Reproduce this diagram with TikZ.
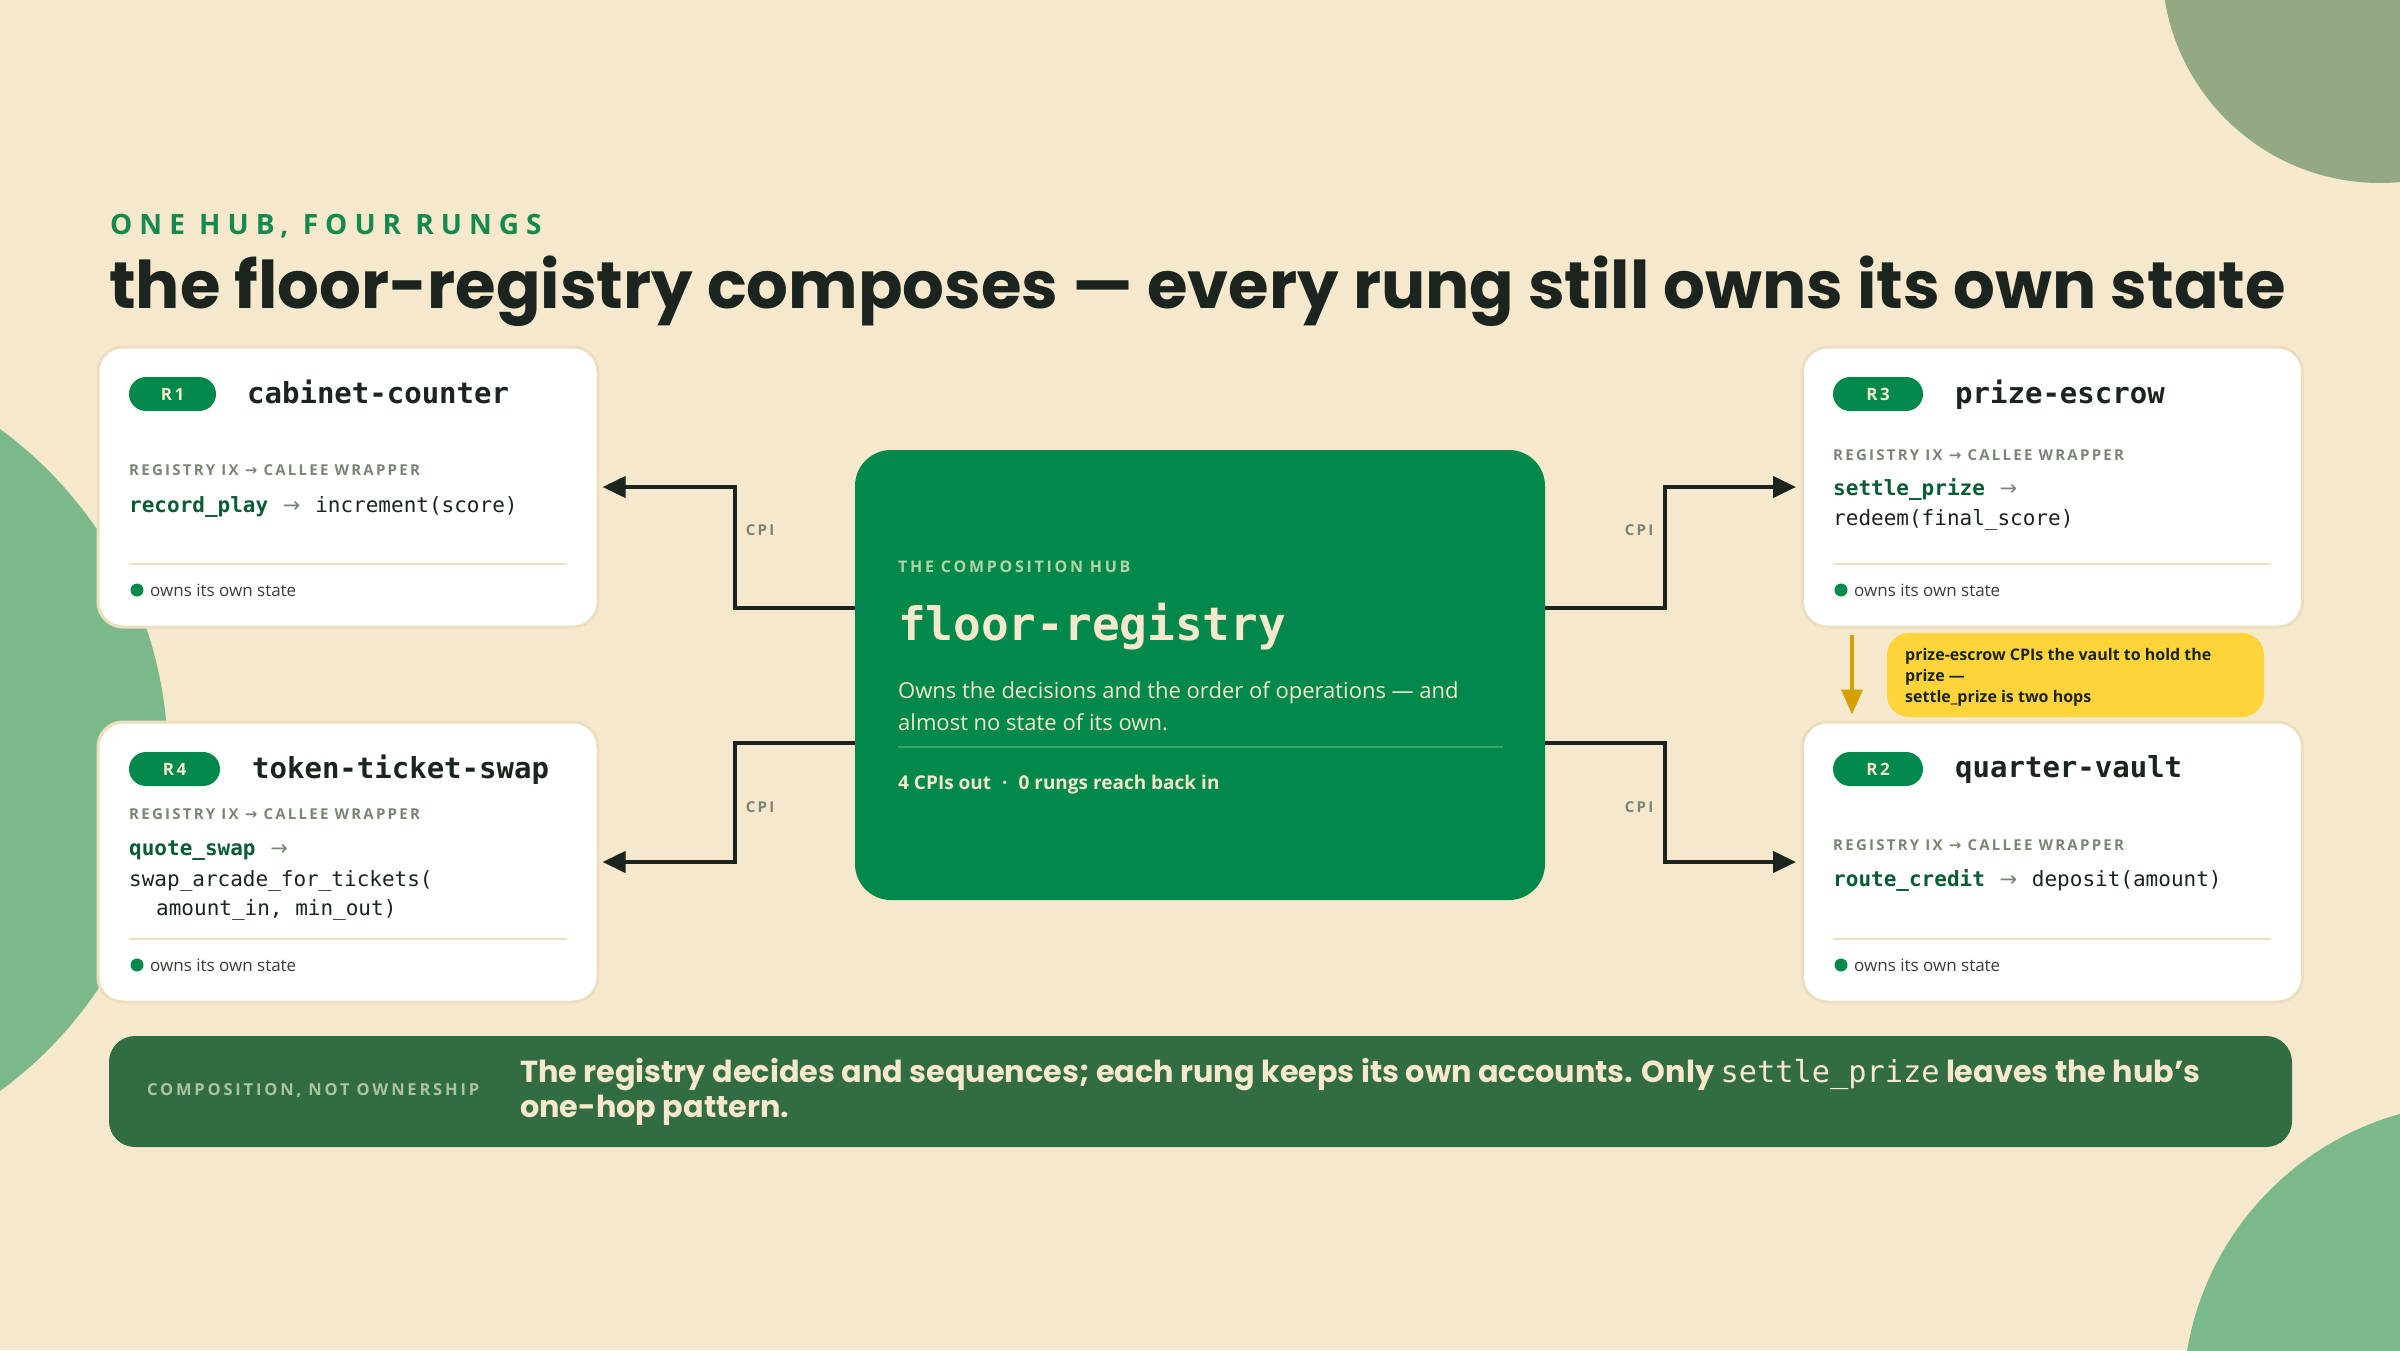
\documentclass[tikz,border=0pt]{standalone}
\usepackage{fontspec}
\usetikzlibrary{arrows.meta,positioning}
\setmainfont{Open Sans}
\setmonofont{DejaVu Sans Mono}
\newfontfamily\headfont{Poppins}
\newfontfamily\capsfont[LetterSpace=15]{Open Sans}
\newfontfamily\widecaps[LetterSpace=17]{Open Sans}
\newfontfamily\kickerfont[LetterSpace=25]{Open Sans}
\newfontfamily\arrowfont{DejaVu Sans}
\definecolor{paper}{RGB}{245,232,204}
\definecolor{cardedge}{RGB}{236,223,192}
\definecolor{hubgreen}{RGB}{0,137,75}
\definecolor{bandgreen}{RGB}{49,108,66}
\definecolor{ink}{RGB}{27,36,30}
\definecolor{body}{RGB}{58,62,56}
\definecolor{codegreen}{RGB}{10,92,52}
\definecolor{muted}{RGB}{122,133,118}
\definecolor{sage}{RGB}{147,169,132}
\definecolor{leaf}{RGB}{123,185,138}
\definecolor{hubcaps}{RGB}{178,212,168}
\definecolor{hubrule}{RGB}{52,164,104}
\definecolor{bandcaps}{RGB}{170,196,160}
\definecolor{notey}{RGB}{255,212,59}
\definecolor{gold}{RGB}{214,160,0}
\definecolor{kicker}{RGB}{20,138,78}
\newcommand{\setfs}[2]{\fontsize{#1}{#2}\selectfont}
\newcommand{\ixname}[1]{{\bfseries\color{codegreen}#1}}
\newcommand{\goesto}{\hspace{0.7em}{\arrowfont\color{muted}→}\hspace{0.7em}}
\begin{document}
\begin{tikzpicture}[x=1pt,y=-1pt,
  card/.style={draw=cardedge,line width=3pt,fill=white,rounded corners=25pt,minimum width=500pt,minimum height=280pt,inner sep=0pt},
  pill/.style={fill=hubgreen,rounded corners=17pt,minimum height=34pt,inner sep=0pt,text=paper,font=\capsfont\bfseries\setfs{17}{20}},
  rungname/.style={anchor=base west,inner sep=0pt,text=ink,font=\ttfamily\bfseries\setfs{29}{34}},
  ixlabel/.style={anchor=base west,inner sep=0pt,text=muted,font=\capsfont\bfseries\setfs{15}{18}},
  code/.style={anchor=base west,inner sep=0pt,text=ink,font=\ttfamily\setfs{21}{26}},
  owns/.style={anchor=base west,inner sep=0pt,text=body,font=\setfs{17}{20}},
  dot/.style={circle,fill=hubgreen,minimum size=13pt,inner sep=0pt},
  divider/.style={draw=cardedge,line width=2.5pt},
  cpi/.style={draw=ink,line width=4pt,-{Triangle[length=23pt,width=21pt]}},
  cpilabel/.style={text=muted,font=\capsfont\bfseries\setfs{15}{18},inner sep=0pt},
  hop/.style={draw=gold,line width=4pt,-{Triangle[length=25pt,width=21pt]}},
  hubtext/.style={anchor=base west,inner sep=0pt,text=paper,font=\setfs{22}{28}},
  notetext/.style={anchor=base west,inner sep=0pt,text=ink,font=\bfseries\setfs{16}{21}},
  bandtext/.style={anchor=base west,inner sep=0pt,text=paper,font=\headfont\bfseries\setfs{30.3}{35}}]
\useasboundingbox (0,0) rectangle (2400,1350);
\fill[paper] (0,0) rectangle (2400,1350);
\begin{scope}
\clip (0,0) rectangle (2400,1350);
\fill[sage] (2380,-35) circle[radius=218pt];
\fill[leaf] (-242,760) circle[radius=410pt];
\fill[leaf] (2480,1400) circle[radius=297pt];
\end{scope}
%
\node[anchor=base west,inner sep=0pt,text=kicker,font=\kickerfont\bfseries\setfs{28}{32}] (kick) at (110,234) {ONE HUB, FOUR RUNGS};
\node[anchor=base west,inner sep=0pt,text=ink,font=\headfont\bfseries\setfs{65.7}{72}] (title) at (109,308) {the floor-registry composes — every rung still owns its own state};
%
\node[fill=hubgreen,rounded corners=36pt,minimum width=690pt,minimum height=450pt] (hub) at (1200,675) {};
\node[anchor=base west,inner sep=0pt,text=hubcaps,font=\widecaps\bfseries\setfs{16}{19}] at (898,572) {THE COMPOSITION HUB};
\node[anchor=base west,inner sep=0pt,text=paper,font=\ttfamily\bfseries\setfs{46}{52}] at (898,640) {floor-registry};
\node[hubtext] at (898,698) {Owns the decisions and the order of operations — and};
\node[hubtext] at (898,730) {almost no state of its own.};
\draw[hubrule,line width=2.5pt] (898,747) -- (1503,747);
\node[hubtext,font=\bfseries\setfs{19}{23}] at (898,789) {4 CPIs out\hspace{11pt}·\hspace{11pt}0 rungs reach back in};
%
\node[card] (r1) at (348,487) {};
\node[pill,minimum width=87pt] at (172.5,394) {R1};
\node[rungname] at (247,403) {cabinet-counter};
\node[ixlabel] at (129,475) {REGISTRY IX {\arrowfont →} CALLEE WRAPPER};
\node[code] at (129,512) {\ixname{record\_play}\goesto increment(score)};
\draw[divider] (129,564) -- (567,564);
\node[dot] at (137,590) {};\node[owns] at (150,596) {owns its own state};
%
\node[card] (r4) at (348,862) {};
\node[pill,minimum width=91pt] at (174.5,769) {R4};
\node[rungname] at (252,778) {token-ticket-swap};
\node[ixlabel] at (129,819) {REGISTRY IX {\arrowfont →} CALLEE WRAPPER};
\node[code] at (129,855) {\ixname{quote\_swap}\goesto};
\node[code] at (129,886) {swap\_arcade\_for\_tickets(};
\node[code] at (156,915) {amount\_in, min\_out)};
\draw[divider] (129,939) -- (567,939);
\node[dot] at (137,965) {};\node[owns] at (150,971) {owns its own state};
%
\node[card] (r3) at (2052.5,487) {};
\node[pill,minimum width=90pt] at (1878,394) {R3};
\node[rungname] at (1955,403) {prize-escrow};
\node[ixlabel] at (1833,460) {REGISTRY IX {\arrowfont →} CALLEE WRAPPER};
\node[code] at (1833,495) {\ixname{settle\_prize}\goesto};
\node[code] at (1833,525) {redeem(final\_score)};
\draw[divider] (1833,564) -- (2271,564);
\node[dot] at (1841,590) {};\node[owns] at (1854,596) {owns its own state};
%
\node[card] (r2) at (2052.5,862) {};
\node[pill,minimum width=90pt] at (1878,769) {R2};
\node[rungname] at (1955,777) {quarter-vault};
\node[ixlabel] at (1833,850) {REGISTRY IX {\arrowfont →} CALLEE WRAPPER};
\node[code] at (1833,886) {\ixname{route\_credit}\goesto deposit(amount)};
\draw[divider] (1833,939) -- (2271,939);
\node[dot] at (1841,965) {};\node[owns] at (1854,971) {owns its own state};
%
\draw[cpi,shorten >=3pt] ([yshift=67pt]hub.west) -- ++(-120,0) |- node[pos=.32,anchor=west,xshift=9pt,cpilabel] {CPI} (r1.east);
\draw[cpi,shorten >=3pt] ([yshift=-68pt]hub.west) -- ++(-120,0) |- node[pos=.27,anchor=west,xshift=9pt,cpilabel] {CPI} (r4.east);
\draw[cpi,shorten >=5pt] ([yshift=67pt]hub.east) -- ++(120,0) |- node[pos=.32,anchor=east,xshift=-10pt,cpilabel] {CPI} (r3.west);
\draw[cpi,shorten >=5pt] ([yshift=-68pt]hub.east) -- ++(120,0) |- node[pos=.27,anchor=east,xshift=-10pt,cpilabel] {CPI} (r2.west);
%
\node[fill=notey,rounded corners=22pt,minimum width=377pt,minimum height=84pt] (note) at (2075.5,675) {};
\node[notetext] at (1905,660) {prize-escrow CPIs the vault to hold the};
\node[notetext] at (1905,681) {prize —};
\node[notetext] at (1905,702) {settle\_prize is two hops};
\draw[hop] ([xshift=51pt,yshift=-6pt]r3.south west) -- ([xshift=51pt,yshift=6pt]r2.north west);
%
\node[fill=bandgreen,rounded corners=26pt,minimum width=2183pt,minimum height=111pt] (band) at (1200.5,1091.5) {};
\node[anchor=west,inner sep=0pt,text=bandcaps,font=\widecaps\bfseries\setfs{16.5}{20}] at (147,1091) {COMPOSITION, NOT OWNERSHIP};
\node[bandtext] at (520,1082) {The registry decides and sequences; each rung keeps its own accounts. Only {\ttfamily\mdseries settle\_prize} leaves the hub’s};
\node[bandtext] at (520,1117) {one-hop pattern.};
\end{tikzpicture}
\end{document}
